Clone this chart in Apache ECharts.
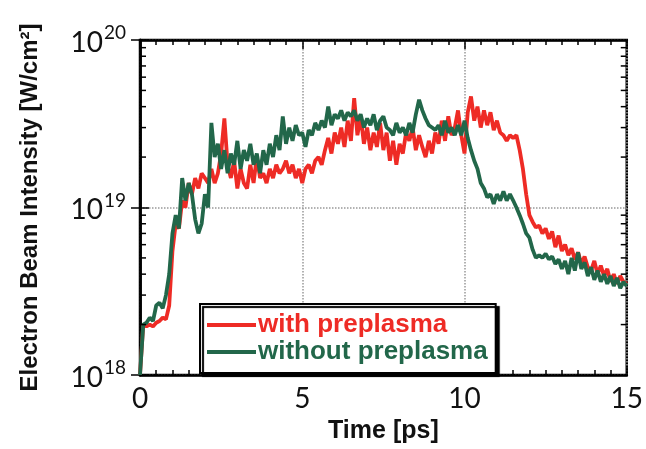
<!DOCTYPE html>
<html>
<head>
<meta charset="utf-8">
<script src="https://cdn.jsdelivr.net/npm/echarts@6/dist/echarts.min.js"></script>
<style>
  html, body { margin: 0; padding: 0; background: #fff; }
  #chart { width: 646px; height: 449px; }
</style>
</head>
<body>
<div id="chart"></div>
<script>
// time axis, ps
const time = [];
for (let i = 0; i <= 150; i++) time.push(+(i * 0.1).toFixed(1));

// intensity in units of 1e18 W/cm^2, every 0.1 ps
const withPre = [
  1.0, 2.0, 1.95, 2.0, 1.95, 2.05, 2.1, 2.2, 2.15, 2.6,
  5.5, 8.0, 7.5, 11, 10, 14, 12, 15, 13, 16,
  15, 14, 17, 14, 16, 21, 34, 18, 15, 19,
  13, 17, 14, 13, 18, 14, 20, 15, 16, 14,
  17, 15, 18, 16, 17, 19, 16, 18, 15, 17,
  14, 17, 18, 16, 19, 20, 18, 22, 26, 21,
  28, 24, 30, 23, 33, 25, 45, 27, 35, 24,
  30, 22, 28, 23, 32, 22, 28, 19, 25, 18,
  24, 21, 28, 25, 30, 22, 27, 23, 20, 25,
  21, 28, 24, 33, 25, 35, 27, 30, 38, 27,
  21, 37, 46, 33, 40, 30, 38, 31, 37, 29,
  33, 28, 27, 25, 27, 26, 27, 22, 17, 12,
  9.0, 8.2, 7.6, 7.8, 7.0, 7.5, 6.5, 7.2, 5.8, 6.8,
  5.5, 6.0, 5.2, 5.7, 4.9, 5.4, 4.6, 5.1, 4.4, 4.2,
  4.8, 4.0, 4.5, 3.9, 4.3, 3.6, 4.0, 3.5, 3.9, 3.6,
  3.5
];
const withoutPre = [
  1.0, 2.0, 2.05, 2.2, 2.1, 2.6, 2.7, 2.5, 3.0, 4.0,
  7.0, 9.0, 7.5, 15, 11, 14, 12, 8.5, 7.0, 8.0,
  12, 10, 32, 20, 24, 17, 22, 16, 21, 18,
  25, 17, 22, 19, 24, 18, 21, 16, 22, 18,
  24, 20, 27, 22, 35, 24, 30, 25, 31, 27,
  28, 23, 29, 27, 32, 29, 33, 30, 40, 31,
  36, 34, 38, 33, 37, 35, 38, 33, 36, 30,
  34, 31, 36, 29, 33, 35, 30, 29, 27, 32,
  28, 30, 27, 32, 28, 36, 44, 38, 34, 31,
  30, 29, 31, 27, 33, 28, 30, 27, 31, 27,
  33, 26, 22, 19, 17, 14, 13, 11.5, 12, 10.5,
  12, 11, 12.5, 11, 12, 11, 10, 9, 8, 7,
  6.6, 5.6, 5.0, 5.2, 5.0, 5.3, 4.9, 5.1, 4.6, 4.9,
  4.3, 4.8, 4.0, 5.0, 4.2, 5.4, 4.3, 4.7, 3.9, 4.4,
  3.7, 4.2, 3.6, 4.0, 3.5, 3.9, 3.4, 3.8, 3.3, 3.6,
  3.4
];

// minor log ticks between decades (units of 1e18)
const yMinorTicks = [2, 3, 4, 5, 6, 7, 8, 9, 20, 30, 40, 50, 60, 70, 80, 90];
// exponent shown for each decade label
const decadeExp = { 1: '18', 10: '19', 100: '20' };

const RED = '#ee2b25';
const GREEN = '#22674a';
const labelFont = 'Lato, "Open Sans", "DejaVu Sans", sans-serif';
const boldFont = '"Liberation Sans", Arial, sans-serif';

const chart = echarts.init(document.getElementById('chart'));

const options = {
  animation: false,
  grid: {
    left: 140, right: 16, top: 40, bottom: 66,
    show: true, borderColor: '#000', borderWidth: 2.5, backgroundColor: '#fff'
  },
  legend: {
    left: 200, top: 304,
    orient: 'vertical',
    icon: 'rect',
    itemWidth: 49, itemHeight: 4, itemGap: 1,
    padding: [8, 8, 8, 7],
    backgroundColor: '#fff',
    borderColor: '#000', borderWidth: 2,
    shadowColor: '#000', shadowBlur: 1, shadowOffsetX: 3, shadowOffsetY: 3,
    textStyle: { fontFamily: boldFont, fontWeight: 'bold', fontSize: 26, lineHeight: 23, padding: [0, 0, 0, -3] },
    data: [
      { name: 'with preplasma', textStyle: { color: RED } },
      { name: 'without preplasma', textStyle: { color: GREEN } }
    ]
  },
  xAxis: [
    {
      type: 'value', min: 0, max: 15, interval: 5,
      name: 'Time [ps]', nameLocation: 'middle', nameGap: 44,
      nameTextStyle: { fontFamily: boldFont, fontWeight: 'bold', fontSize: 25, color: '#111' },
      axisLine: { show: true, lineStyle: { color: '#000', width: 2.5 } },
      axisTick: { inside: true, length: 9, lineStyle: { color: '#000', width: 1.5 } },
      minorTick: { show: true, splitNumber: 10, length: 5, lineStyle: { color: '#000', width: 1.5 } },
      axisLabel: { fontFamily: labelFont, fontSize: 28, color: '#111', margin: 10 },
      splitLine: { show: true, lineStyle: { color: '#999', type: 'dotted', width: 1.5 } }
    },
    {
      type: 'value', min: 0, max: 15, interval: 5, position: 'top',
      axisLine: { show: true, lineStyle: { color: '#000', width: 2.5 } },
      axisTick: { inside: true, length: 9, lineStyle: { color: '#000', width: 1.5 } },
      minorTick: { show: true, splitNumber: 10, length: 5, lineStyle: { color: '#000', width: 1.5 } },
      axisLabel: { show: false },
      splitLine: { show: false }
    }
  ],
  yAxis: [
    {
      type: 'log', logBase: 10, min: 1, max: 100,
      name: 'Electron Beam Intensity [W/cm²]', nameLocation: 'middle', nameGap: 98, nameRotate: 90,
      nameTextStyle: { fontFamily: boldFont, fontWeight: 'bold', fontSize: 24, color: '#111' },
      axisLine: { show: true, lineStyle: { color: '#000', width: 2.5 } },
      axisTick: { inside: true, length: 9, lineStyle: { color: '#000', width: 1.5 } },
      axisLabel: {
        margin: 14,
        formatter: (v) => '{b|10}{s|' + decadeExp[Math.round(v)] + '}',
        rich: {
          b: { fontFamily: labelFont, fontSize: 28, color: '#111', verticalAlign: 'bottom' },
          s: { fontFamily: labelFont, fontSize: 19, color: '#111', verticalAlign: 'top', padding: [0, 0, 14, 1] }
        }
      },
      splitLine: { show: true, lineStyle: { color: '#999', type: 'dotted', width: 1.5 } }
    },
    {
      type: 'log', logBase: 10, min: 1, max: 100, position: 'right',
      axisLine: { show: true, lineStyle: { color: '#000', width: 2.5 } },
      axisTick: { inside: true, length: 9, lineStyle: { color: '#000', width: 1.5 } },
      axisLabel: { show: false },
      splitLine: { show: false }
    }
  ],
  series: [
    {
      name: 'with preplasma',
      type: 'line',
      data: time.map((t, i) => [t, withPre[i]]),
      showSymbol: false,
      color: RED,
      lineStyle: { color: RED, width: 3.8 },
      z: 3
    },
    {
      name: 'without preplasma',
      type: 'line',
      data: time.map((t, i) => [t, withoutPre[i]]),
      showSymbol: false,
      color: GREEN,
      lineStyle: { color: GREEN, width: 3.8 },
      z: 4
    },
    {
      // short minor ticks for the log axis, on both sides of the frame
      type: 'custom',
      silent: true,
      clip: false,
      z: 10,
      data: yMinorTicks.map((v) => [0, v]),
      renderItem: (params, api) => {
        const left = api.coord([0, api.value(1)]);
        const right = api.coord([15, api.value(1)]);
        const st = { stroke: '#000', lineWidth: 1.5 };
        return {
          type: 'group',
          children: [
            { type: 'line', shape: { x1: left[0], y1: left[1], x2: left[0] + 6, y2: left[1] }, style: st },
            { type: 'line', shape: { x1: right[0], y1: right[1], x2: right[0] - 6, y2: right[1] }, style: st }
          ]
        };
      }
    }
  ]
};

chart.setOption(options);
</script>
</body>
</html>
